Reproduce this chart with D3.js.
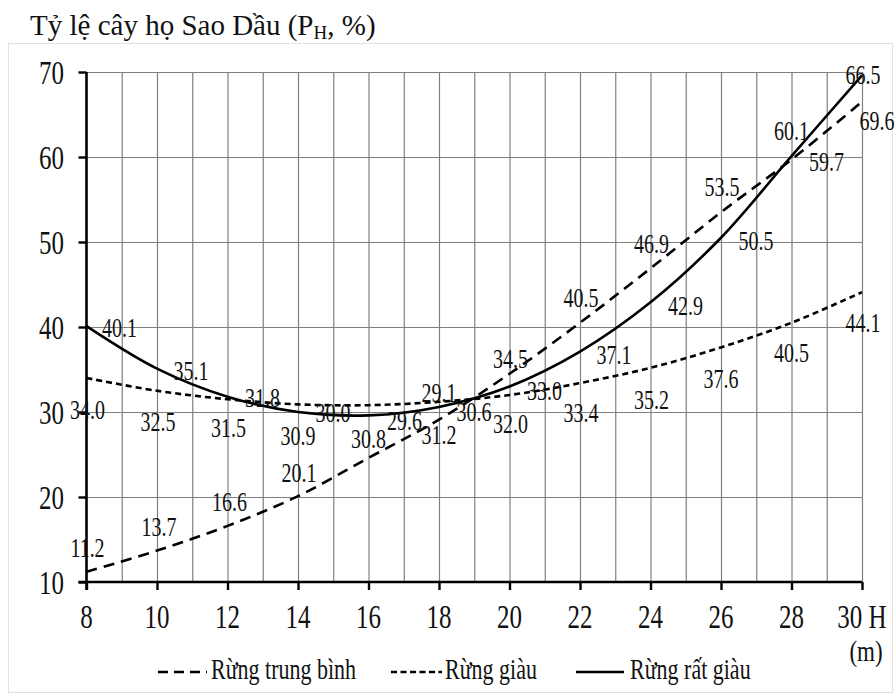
<!DOCTYPE html>
<html>
<head>
<meta charset="utf-8">
<script src="https://cdn.jsdelivr.net/npm/d3@7"></script>
<style>
  html, body { margin: 0; padding: 0; background: #fff; }
  svg { display: block; }
  text { font-family: "Liberation Serif", "Times New Roman", serif; fill: #111; }
</style>
</head>
<body>
<svg id="chart" width="895" height="695"></svg>
<script>
// ---------------- data ----------------
const heights = [8, 10, 12, 14, 16, 18, 20, 22, 24, 26, 28, 30];
const rungTrungBinh = [11.2, 13.7, 16.6, 20.1, 24.6, 29.1, 34.5, 40.5, 46.9, 53.5, 59.7, 66.5];
const rungGiau      = [34.0, 32.5, 31.5, 30.9, 30.8, 31.2, 32.0, 33.4, 35.2, 37.6, 40.5, 44.1];
const rungRatGiau   = [40.1, 35.1, 31.8, 30.0, 29.6, 30.6, 33.0, 37.1, 42.9, 50.5, 60.1, 69.6];
const seriesNames = ["Rừng trung bình", "Rừng giàu", "Rừng rất giàu"];
const xTickValues = [8, 10, 12, 14, 16, 18, 20, 22, 24, 26, 28, 30];
const yTickValues = [10, 20, 30, 40, 50, 60, 70];
const titleMain = "Tỷ lệ cây họ Sao Dầu (P";
const titleSub = "H";
const titleEnd = ", %)";
const xUnitLabel = "(m)";

// label offsets (styling) relative to each point
const offTB = [[1,-24],[2,-24],[2,-24],[1,-23],null,[0,-27],[1,-15],[1,-25],[1,-25],[1,-25],[35,2],[1,-27]];
const offG  = [[1,32],[1,31],[1,29],[0,31],[0,34],[0,33],[1,29],[1,30],[1,32],[0,31],[0,30],[1,31]];
const offR  = [[33,2],[34,2],[35,1],[35,1],[36,5],[35,5],[35,4],[34,3],[35,3],[35,3],[0,-25],[15,45]];

// ---------------- drawing ----------------
const svg = d3.select("#chart");
const SY = 1.32; // vertical stretch of the text

const x = d3.scaleLinear().domain([8, 30]).range([86.5, 862]);
const y = d3.scaleLinear().domain([10, 70]).range([582, 72]);

function stxt(parent, px, py, str, size, anchor, center) {
  const t = parent.append("text")
    .attr("transform", `translate(${px},${py}) scale(1,${SY})`)
    .attr("text-anchor", anchor || "middle")
    .style("font-size", size + "px")
    .text(str);
  if (center) t.attr("dy", "0.35em");
  return t;
}

// frame
svg.append("rect").attr("x", 8.5).attr("y", 43.5).attr("width", 884).attr("height", 649)
  .attr("fill", "none").attr("stroke", "#e2e2e2").attr("stroke-width", 1);

// title
const title = svg.append("text").attr("x", 30).attr("y", 35).style("font-size", "29px");
title.append("tspan").text(titleMain);
title.append("tspan").attr("dy", 4).style("font-size", "19px").text(titleSub);
title.append("tspan").attr("dy", -4).text(titleEnd);

// grid
const grid = svg.append("g");
grid.append("g")
  .attr("transform", `translate(0,${y(10)})`)
  .call(d3.axisBottom(x).tickValues(d3.range(9, 31)).tickSize(-(y(10) - y(70))).tickFormat(""))
  .call(g => g.select(".domain").remove())
  .call(g => g.selectAll("line").attr("stroke", "#808080").attr("stroke-width", 1.2));
grid.append("g")
  .attr("transform", `translate(${x(8)},0)`)
  .call(d3.axisLeft(y).tickValues(d3.range(20, 71, 10)).tickSize(-(x(30) - x(8))).tickFormat(""))
  .call(g => g.select(".domain").remove())
  .call(g => g.selectAll("line").attr("stroke", "#808080").attr("stroke-width", 1.2));

// axes
const xAxis = svg.append("g").attr("transform", `translate(0,${y(10)})`)
  .call(d3.axisBottom(x).tickValues(xTickValues).tickSize(8).tickSizeOuter(0).tickFormat(""));
xAxis.select(".domain").attr("stroke", "#000").attr("stroke-width", 2.6).attr("d", `M${x(8) - 8},0H${x(30)}`);
xAxis.selectAll("line").attr("stroke", "#000").attr("stroke-width", 2.4);

const yAxis = svg.append("g").attr("transform", `translate(${x(8)},0)`)
  .call(d3.axisLeft(y).tickValues(yTickValues).tickSize(8).tickSizeOuter(0).tickFormat(""));
yAxis.select(".domain").attr("stroke", "#000").attr("stroke-width", 2.6).attr("d", `M0,${y(70)}V${y(10) + 8}`);
yAxis.selectAll("line").attr("stroke", "#000").attr("stroke-width", 2.4);

// tick labels
xTickValues.forEach(v => {
  stxt(svg, x(v), 628, v === 30 ? "30 H" : String(v), 25, "middle", false);
});
stxt(svg, x(30) + 4, 661, xUnitLabel, 23, "middle", false);
yTickValues.forEach(v => {
  stxt(svg, 64, y(v), String(v), 25, "end", true);
});

// lines
const line = d3.line().x(d => x(d[0])).y(d => y(d[1])).curve(d3.curveCatmullRom.alpha(0.5));
const styles = [
  { data: rungTrungBinh, dash: "11,7", off: offTB },
  { data: rungGiau, dash: "6,4", off: offG },
  { data: rungRatGiau, dash: null, off: offR }
];
const plot = svg.append("g");
styles.forEach(s => {
  const pts = heights.map((h, i) => [h, s.data[i]]);
  const p = plot.append("path").attr("d", line(pts)).attr("fill", "none")
    .attr("stroke", "#000").attr("stroke-width", 2.6);
  if (s.dash) p.attr("stroke-dasharray", s.dash);
});

// value labels
const labels = svg.append("g");
styles.forEach(s => {
  heights.forEach((h, i) => {
    const o = s.off[i];
    if (!o) return;
    stxt(labels, x(h) + o[0], y(s.data[i]) + o[1], s.data[i].toFixed(1), 20, "middle", true);
  });
});

// legend
const legend = svg.append("g");
const legItems = [
  { x1: 158, x2: 207, tx: 211, dash: "10,6" },
  { x1: 391, x2: 442, tx: 445, dash: "6,3.5" },
  { x1: 576, x2: 624, tx: 630, dash: null }
];
legItems.forEach((it, i) => {
  const l = legend.append("line").attr("x1", it.x1).attr("x2", it.x2).attr("y1", 672).attr("y2", 672)
    .attr("stroke", "#000").attr("stroke-width", 2.6);
  if (it.dash) l.attr("stroke-dasharray", it.dash);
  stxt(legend, it.tx, 679, seriesNames[i], 22, "start", false);
});
</script>
</body>
</html>
